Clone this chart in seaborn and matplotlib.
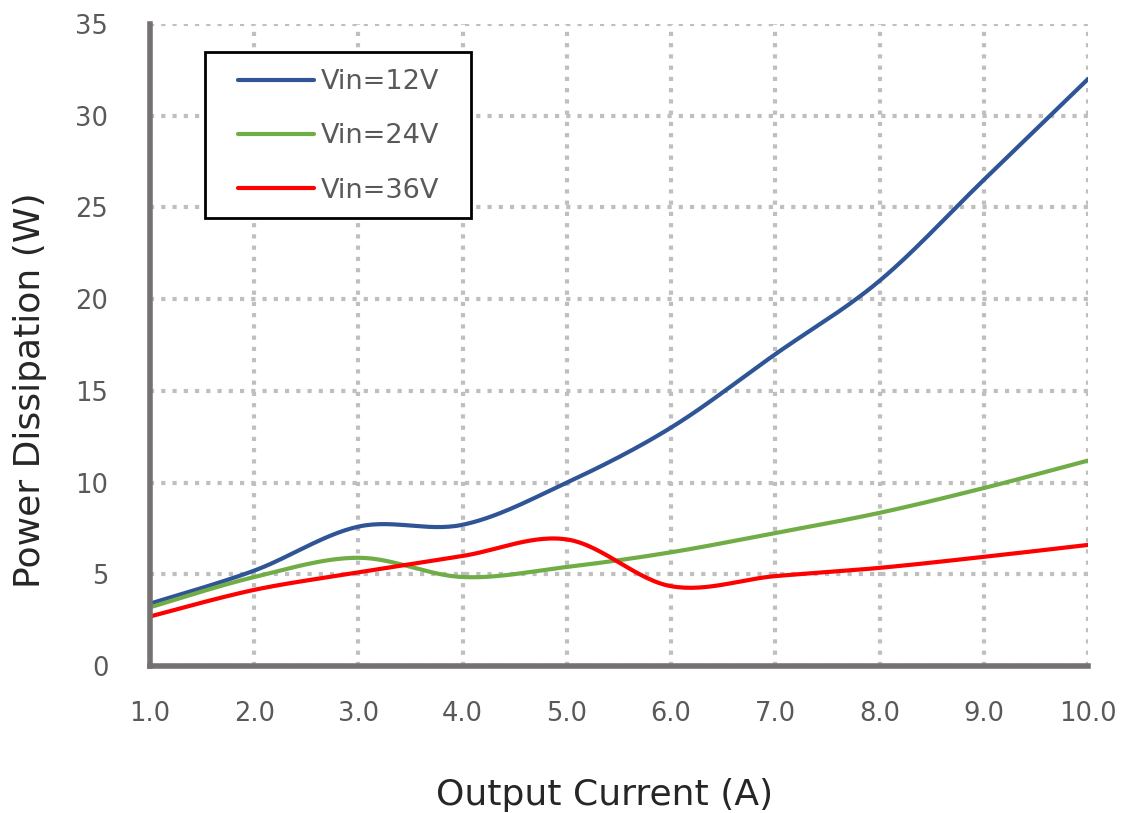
import numpy as np
import pandas as pd
import seaborn as sns
import matplotlib.pyplot as plt
from matplotlib.patches import Rectangle

# Data
current = [1.0, 2.0, 3.0, 4.0, 5.0, 6.0, 7.0, 8.0, 9.0, 10.0]
p_12v = [3.4, 5.2, 7.6, 7.7, 10.0, 13.0, 17.0, 21.0, 26.5, 32.0]
p_24v = [3.2, 4.85, 5.9, 4.85, 5.4, 6.2, 7.25, 8.35, 9.7, 11.2]
p_36v = [2.7, 4.15, 5.1, 6.0, 6.9, 4.35, 4.9, 5.35, 5.95, 6.6]

series = ['Vin=12V', 'Vin=24V', 'Vin=36V']
colors = ['#2F5597', '#70AD47', '#FF0000']


def smooth(x, y, n=30):
    # Excel-style smoothed line: Catmull-Rom bezier between the points
    x = np.asarray(x, float)
    y = np.asarray(y, float)
    px = np.concatenate([[x[0]], x, [x[-1]]])
    py = np.concatenate([[y[0]], y, [y[-1]]])
    xs, ys = [], []
    for i in range(1, len(px) - 2):
        p0 = np.array([px[i - 1], py[i - 1]])
        p1 = np.array([px[i], py[i]])
        p2 = np.array([px[i + 1], py[i + 1]])
        p3 = np.array([px[i + 2], py[i + 2]])
        c1 = p1 + (p2 - p0) / 6.0
        c2 = p2 - (p3 - p1) / 6.0
        t = np.linspace(0, 1, n, endpoint=(i == len(px) - 3))[:, None]
        b = ((1 - t) ** 3) * p1 + 3 * ((1 - t) ** 2) * t * c1 + 3 * (1 - t) * t ** 2 * c2 + t ** 3 * p2
        xs.append(b[:, 0])
        ys.append(b[:, 1])
    return np.concatenate(xs), np.concatenate(ys)


frames = []
for name, vals in zip(series, [p_12v, p_24v, p_36v]):
    sx, sy = smooth(current, vals)
    frames.append(pd.DataFrame({'current': sx, 'power': sy, 'series': name}))
df = pd.concat(frames, ignore_index=True)

sns.set_style('white')
plt.rcParams['font.family'] = ['DejaVu Sans']

W, H = 1124, 813
fig = plt.figure(figsize=(W / 100, H / 100), dpi=100)
ax = fig.add_axes([150 / W, 1 - 666 / H, 938 / W, 642 / H])

sns.lineplot(data=df, x='current', y='power', hue='series', palette=colors,
             hue_order=series, sort=False, estimator=None, linewidth=3.0, ax=ax)

ax.set_xlim(1.0, 10.0)
ax.set_ylim(0, 35)
ax.set_xticks(current)
ax.set_xticklabels(['{:.1f}'.format(v) for v in current])
ax.set_yticks(range(0, 36, 5))

ax.grid(True, color='#BFBFBF', linestyle=(0, (1.0, 1.7)), linewidth=3.0,
        dash_capstyle='butt')
ax.set_axisbelow(True)

for s in ['top', 'right']:
    ax.spines[s].set_visible(False)
for s in ['left', 'bottom']:
    ax.spines[s].set_color('#767171')
    ax.spines[s].set_linewidth(4)

ax.tick_params(axis='both', length=0, labelsize=18.5, labelcolor='#595959')
ax.tick_params(axis='x', pad=25)
ax.tick_params(axis='y', pad=30)

ax.set_xlabel('Output Current (A)', fontsize=26, color='#262626')
ax.set_ylabel('Power Dissipation (W)', fontsize=26, color='#262626')
ax.xaxis.set_label_coords((605 - 150) / 938, -(795 - 666) / 642)
ax.yaxis.set_label_coords(-(150 - 30) / 938, (666 - 390) / 642)
ax.xaxis.label.set_va('center')
ax.yaxis.label.set_va('center')

# legend entries, with a plain black box behind them
leg = ax.legend(loc='upper left', bbox_to_anchor=(238 / W, 1 - 69 / H),
                bbox_transform=fig.transFigure, frameon=False,
                fontsize=19.5, handlelength=2.8, labelspacing=1.05,
                borderpad=0, borderaxespad=0, handletextpad=0.25)
for t in leg.get_texts():
    t.set_color('#595959')
leg.set_title(None)
box = Rectangle((205 / W, 1 - 218 / H), 266 / W, 166 / H, transform=fig.transFigure,
                facecolor='white', edgecolor='black', linewidth=2, zorder=4)
ax.add_artist(box)
box.set_clip_on(False)
leg.set_zorder(5)

fig.savefig('out.png', dpi=100)
